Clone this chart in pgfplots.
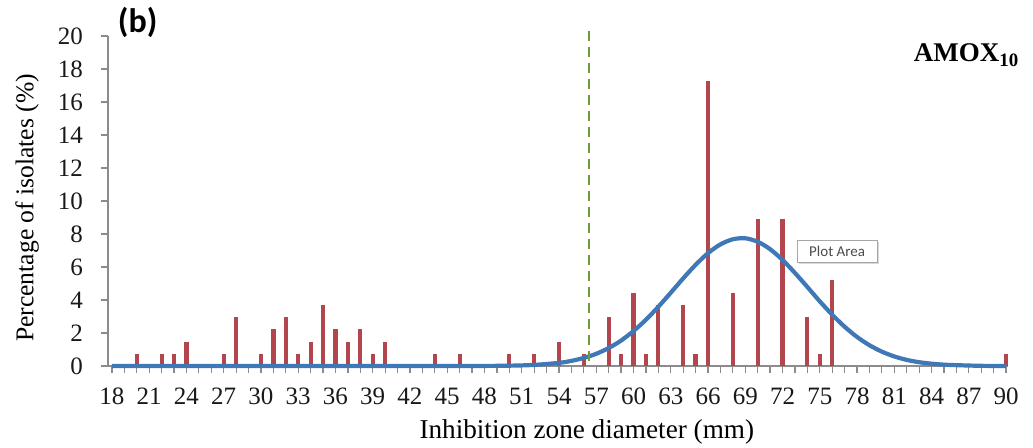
\documentclass[border=0pt]{standalone}
\usepackage{fontspec}
\setmainfont{Liberation Serif}
\newfontfamily\carlito{Carlito}
\usepackage{pgfplots}
\pgfplotsset{compat=1.18}
\usetikzlibrary{shadows}
\definecolor{barred}{HTML}{B3454C}
\definecolor{curveblue}{HTML}{3F78B6}
\definecolor{dashgreen}{HTML}{6E9A3A}
\definecolor{axgray}{HTML}{8C8C8C}
\begin{document}
\begin{tikzpicture}
\useasboundingbox (-54pt,-41pt) rectangle (462.5pt,183pt);
\begin{axis}[
  at={(0pt,0pt)}, anchor=south west,
  scale only axis, width=450pt, height=165pt,
  xmin=17.68, xmax=90.16, ymin=0, ymax=20,
  axis x line=bottom, axis y line=left,
  axis line style={-, axgray, line width=0.8pt},
  xtick={18,21,...,90}, minor xtick={18,...,90},
  ytick={0,2,...,20},
  tick align=outside,
  major tick length=3.5pt, minor tick length=3.5pt,
  every tick/.style={axgray, line width=0.6pt},
  every minor tick/.style={axgray, line width=0.6pt},
  tick label style={font=\fontsize{12.5}{13}\selectfont, text=black!90},
  xticklabel style={yshift=-4pt},
  yticklabel style={xshift=-5.5pt},
  /pgf/number format/assume math mode=true,
  xlabel={Inhibition zone diameter (mm)},
  ylabel={Percentage of isolates (\%)},
  xlabel style={font=\fontsize{13.6}{15}\selectfont, at={(axis description cs:0.532,-0.2)}, anchor=center},
  ylabel style={font=\fontsize{12.8}{14}\selectfont, at={(axis description cs:-0.09,0.479)}, anchor=center},
  clip=false,
]
\addplot[ycomb, barred, line width=2.1pt, no marks] coordinates {
(20,0.74) (22,0.74) (23,0.74) (24,1.48) (27,0.74) (28,2.96) (30,0.74)
(31,2.22) (32,2.96) (33,0.74) (34,1.48) (35,3.70) (36,2.22) (37,1.48)
(38,2.22) (39,0.74) (40,1.48) (44,0.74) (46,0.74) (50,0.74) (52,0.74)
(54,1.48) (56,0.74) (58,2.96) (59,0.74) (60,4.44) (61,0.74) (62,3.70)
(64,3.70) (65,0.74) (66,17.3) (68,4.44) (70,8.89) (72,8.89) (74,2.96)
(75,0.74) (76,5.19) (90,0.74)
};
\addplot[curveblue, line width=2.1pt, smooth, no marks, line join=round] coordinates {
(18,0) (30,0) (40,0) (45,0.001) (48,0.005) (50,0.019) (52,0.065) (54,0.19)
(55,0.31) (56,0.49) (57,0.74) (58,1.09) (59,1.54) (60,2.12) (61,2.80)
(62,3.59) (63,4.44) (64,5.31) (65,6.13) (66,6.84) (67,7.37) (68,7.68)
(69,7.74) (70,7.53) (71,7.08) (72,6.43) (73,5.64) (74,4.79) (75,3.92)
(76,3.11) (77,2.38) (78,1.76) (79,1.26) (80,0.87) (81,0.58) (82,0.37)
(83,0.23) (84,0.14) (85,0.08) (86,0.05) (88,0.01) (90,0)
};
\addplot[dashgreen, line width=1.3pt, dash pattern=on 5pt off 3pt, no marks] coordinates {
(56.4,0.3) (56.4,20.6)
};
\node[draw=gray!70, fill=white, drop shadow={opacity=0.3, shadow xshift=1pt, shadow yshift=-1pt},
  inner sep=2pt, font=\carlito\fontsize{7.5}{8}\selectfont, text=black!70, minimum width=40pt, minimum height=11pt]
  at (axis cs:76.4,6.94) {Plot Area};
\node[font=\carlito\bfseries\fontsize{17}{18}\selectfont] at (axis description cs:0.033,1.042) {(b)};
\node[font=\bfseries\fontsize{13.5}{14}\selectfont] at (axis description cs:0.954,0.942) {AMOX\textsubscript{10}};
\end{axis}
\end{tikzpicture}
\end{document}
